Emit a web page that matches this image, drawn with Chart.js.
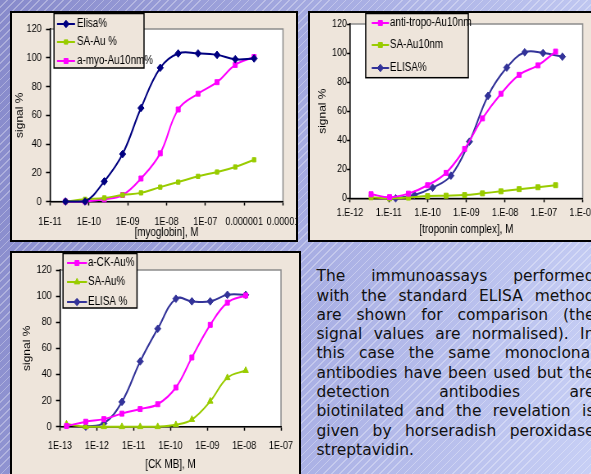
<!DOCTYPE html>
<html>
<head>
<meta charset="utf-8">
<script src="https://cdn.jsdelivr.net/npm/chart.js@4.4.1/dist/chart.umd.min.js"></script>
<style>
  html, body { margin: 0; padding: 0; }
  body {
    width: 591px; height: 474px; overflow: hidden; position: relative;
    background-image:
      repeating-linear-gradient(135deg, rgba(255,255,255,0) 0, rgba(255,255,255,0) 4.6px, rgba(255,255,255,0.3) 4.6px, rgba(255,255,255,0.3) 5.7px),
      linear-gradient(100deg, #878acb 0%, #a6ace2 50%, #c7cff5 100%);
  }
  .panel { position: absolute; border: 2px solid #000; background: #eee5db; overflow: hidden; }
  .panel canvas { position: absolute; left: 0; top: 0; transform-origin: 0 0; }
  #p1 { left: 10px; top: 11px; width: 284px; height: 227px; }
  #p2 { left: 308px; top: 11px; width: 296px; height: 227px; }
  #p3 { left: 10px; top: 251px; width: 287px; height: 236px; }
  #note {
    position: absolute; left: 316.5px; top: 267.3px; width: 278px;
    font-family: 'DejaVu Sans', Verdana, sans-serif; font-size: 15.5px; line-height: 19.3px; color: #111;
  }
  #note div { text-align: justify; text-align-last: justify; }
  #note div.last { text-align-last: left; }
</style>
</head>
<body>
<div class="panel" id="p1"><canvas id="myoChart"></canvas></div>
<div class="panel" id="p2"><canvas id="tropoChart"></canvas></div>
<div class="panel" id="p3"><canvas id="ckChart"></canvas></div>
<div id="note">
  <div>The immunoassays performed</div>
  <div>with the standard ELISA method</div>
  <div>are shown for comparison (the</div>
  <div>signal values are normalised). In</div>
  <div>this case the same monoclonal</div>
  <div>antibodies have been used but the</div>
  <div>detection antibodies are</div>
  <div>biotinilated and the revelation is</div>
  <div>given by horseradish peroxidase</div>
  <div class="last">streptavidin.</div>
</div>
<script>
// --- data: myoglobin panel ---
const myoConc = [2.5e-11, 8e-11, 2.5e-10, 7.4e-10, 2.2e-9, 6.9e-9, 2e-8, 6.5e-8, 2e-7, 5.9e-7, 1.8e-6];
const myoElisa = [0, 0, 14, 33, 65, 93, 103, 103, 102, 99, 99.5];
const myoSaAu = [0, 1.5, 2.5, 4.5, 6, 10, 13.5, 17.5, 20.5, 24, 29];
const myoAntiAu = [0, 0, 1.5, 4.5, 16, 33.5, 64, 75, 83, 95, 100.5];
const myoTickValues = [1e-11, 1e-10, 1e-9, 1e-8, 1e-7, 1e-6, 1e-5];
const myoTickLabels = ['1E-11', '1E-10', '1E-09', '1E-08', '1E-07', '0.000001', '0.00001'];

// --- data: troponin panel ---
const tropoConc = [3.5e-12, 1.05e-11, 3.2e-11, 1e-10, 3e-10, 9e-10, 2.6e-9, 7.8e-9, 2.3e-8, 7e-8, 2e-7];
const tropoAntiAu = [2.8, 0.8, 3.2, 9, 17.5, 34, 55, 72, 85, 91.5, 101];
const tropoSaAu = [0.7, 0, 0.5, 1.5, 1.8, 2.2, 3.4, 4.8, 6.3, 7.6, 9];
const tropoElisaConc = [1.5e-11, 4.6e-11, 1.35e-10, 4e-10, 1.2e-9, 3.6e-9, 1.1e-8, 3.2e-8, 9.5e-8, 3e-7];
const tropoElisa = [0, 2.3, 7.3, 15.6, 39, 70.5, 90, 100.5, 100, 97.5];
const tropoTickValues = [1e-12, 1e-11, 1e-10, 1e-9, 1e-8, 1e-7, 1e-6];
const tropoTickLabels = ['1.E-12', '1.E-11', '1.E-10', '1.E-09', '1.E-08', '1.E-07', '1.E-06'];

// --- data: CK-MB panel ---
const ckConc = [1.5e-13, 5e-13, 1.55e-12, 4.8e-12, 1.5e-11, 4.5e-11, 1.4e-10, 3.8e-10, 1.2e-9, 3.5e-9, 1.1e-8];
const ckAntiAu = [0.5, 3.8, 5.8, 10, 13.5, 17.2, 30, 53, 78, 95, 100.5];
const ckSaAu = [2, 0, 0, 0, 0, 0, 1.5, 5.5, 19.5, 37.5, 43];
const ckElisa = [null, 0, 2.5, 19, 50, 75, 98, 96, 96, 101, 101];
const ckTickValues = [1e-13, 1e-12, 1e-11, 1e-10, 1e-9, 1e-8, 1e-7];
const ckTickLabels = ['1E-13', '1E-12', '1E-11', '1E-10', '1E-09', '1E-08', '1E-07'];

const NAVY = '#000080', BLUE = '#333399', PINK = '#ff00ff', LIME = '#99cc00';

// the slide is squeezed sideways, so every canvas is drawn wider and scaled back
const K = 0.82;
const sx = v => v / K;
const FONT = "'Liberation Sans', Arial, sans-serif";

Chart.defaults.font.family = FONT;
Chart.defaults.color = '#000';

function points(xs, ys) {
    return xs.map((x, i) => ({ x: x, y: ys[i] })).filter(p => p.y !== null);
}

function series(label, xs, ys, color, style, radius) {
    return {
        label: label,
        data: points(xs, ys),
        borderColor: color,
        backgroundColor: color,
        pointBackgroundColor: color,
        pointBorderColor: color,
        pointStyle: style,
        pointRadius: radius,
        pointBorderWidth: 1,
        borderWidth: 2,
        tension: 0.4,
        clip: false
    };
}

// white plot area with a grey frame, like the spreadsheet original
const plotBg = {
    id: 'plotBg',
    beforeDraw(chart) {
        const { ctx, chartArea: a } = chart;
        ctx.save();
        ctx.fillStyle = '#fff';
        ctx.fillRect(a.left, a.top, a.width, a.height);
        ctx.strokeStyle = '#8c8c8c';
        ctx.lineWidth = 1.5;
        ctx.strokeRect(a.left, a.top, a.width, a.height);
        ctx.restore();
    }
};

// boxed legend with line + marker samples
const boxLegend = {
    id: 'boxLegend',
    afterDraw(chart, args, o) {
        const ctx = chart.ctx;
        ctx.save();
        ctx.fillStyle = '#eee5db';
        ctx.fillRect(o.x, o.y, o.w, o.h);
        ctx.strokeStyle = '#000';
        ctx.lineWidth = 1.5;
        ctx.strokeRect(o.x, o.y, o.w, o.h);
        ctx.font = '12px ' + FONT;
        ctx.textBaseline = 'middle';
        chart.data.datasets.forEach((ds, i) => {
            const y = o.rows[i];
            ctx.strokeStyle = ds.borderColor;
            ctx.lineWidth = 2;
            ctx.beginPath();
            ctx.moveTo(o.x1, y);
            ctx.lineTo(o.x2, y);
            ctx.stroke();
            ctx.fillStyle = ds.borderColor;
            ctx.lineWidth = 1;
            Chart.helpers.drawPoint(ctx, { pointStyle: ds.pointStyle, radius: ds.pointRadius, borderWidth: 1, rotation: 0 }, (o.x1 + o.x2) / 2, y);
            ctx.fillStyle = '#000';
            ctx.fillText(ds.label, o.tx, y);
        });
        ctx.restore();
    }
};

// L holds the panel geometry in screen pixels
function makeChart(id, L, datasets, tickValues, tickLabels, xTitle) {
    const canvas = document.getElementById(id);
    const cw = Math.round(sx(L.w));
    canvas.width = cw;
    canvas.height = L.h;
    canvas.style.transform = 'scaleX(' + K + ')';

    const yWidth = sx(L.left);
    const yTickLen = sx(L.yTickLen);

    return new Chart(canvas, {
        type: 'line',
        data: { datasets: datasets },
        options: {
            responsive: false,
            animation: false,
            devicePixelRatio: 1,
            layout: { padding: { left: 0, top: L.top, right: cw - sx(L.right), bottom: 0 } },
            scales: {
                x: {
                    type: 'logarithmic',
                    min: tickValues[0],
                    max: tickValues[tickValues.length - 1],
                    afterBuildTicks: s => { s.ticks = tickValues.map(v => ({ value: v })); },
                    afterFit: s => {
                        s.height = L.h - L.bottom;
                        s.paddingLeft = 0; s.paddingRight = 0;
                    },
                    ticks: {
                        autoSkip: false, maxRotation: 0, minRotation: 0,
                        padding: L.xTickPad,
                        font: { size: 11 },
                        callback: (v, i) => tickLabels[i]
                    },
                    grid: { drawOnChartArea: false, drawTicks: true, tickLength: 4, tickColor: '#000', tickWidth: 1.5 },
                    border: { color: '#000', width: 1.5 },
                    title: { display: true, text: xTitle, font: { size: 12 }, padding: { top: 0, bottom: L.xTitlePad } }
                },
                y: {
                    min: 0, max: 120,
                    afterFit: s => {
                        s.width = yWidth;
                        s.paddingTop = 0; s.paddingBottom = 0;
                    },
                    ticks: { stepSize: 20, padding: yWidth - yTickLen - sx(L.yLabelRight), font: { size: 11 } },
                    grid: { drawOnChartArea: false, drawTicks: true, tickLength: yTickLen, tickColor: '#000', tickWidth: 1.5 },
                    border: { color: '#000', width: 1.5 },
                    title: { display: true, text: 'signal %', font: { size: 12 }, padding: { top: sx(L.yTitleX) - 7.2, bottom: 0 } }
                }
            },
            plugins: {
                legend: { display: false },
                tooltip: { enabled: false },
                boxLegend: {
                    x: sx(L.legend.x), y: L.legend.y, w: sx(L.legend.w), h: L.legend.h,
                    rows: L.legend.rows,
                    x1: sx(L.legend.x1), x2: sx(L.legend.x2), tx: sx(L.legend.tx)
                }
            }
        },
        plugins: [plotBg, boxLegend]
    });
}

// Chart 1: myoglobin
makeChart('myoChart', {
    w: 284, h: 227, left: 38, top: 16, right: 271, bottom: 188.5,
    xTickPad: 9.4, xTitlePad: 0, yTitleX: 8, yLabelRight: 29.7, yTickLen: 4,
    legend: { x: 42, y: 0.5, w: 90, h: 54.5, rows: [11, 29, 48], x1: 45, x2: 63, tx: 65 }
}, [
    series('Elisa%', myoConc, myoElisa, NAVY, 'rectRot', 3.8),
    series('SA-Au %', myoConc, myoSaAu, LIME, 'rect', 3),
    series('a-myo-Au10nm%', myoConc, myoAntiAu, PINK, 'rect', 3.5)
], myoTickValues, myoTickLabels, '[myoglobin], M');

// Chart 2: troponin complex
makeChart('tropoChart', {
    w: 296, h: 227, left: 40, top: 11, right: 272.7, bottom: 185.3,
    xTickPad: 4.4, xTitlePad: 2.8, yTitleX: 13, yLabelRight: 37, yTickLen: 3,
    legend: { x: 55.7, y: 0.5, w: 102.6, h: 64.2, rows: [10, 32, 55], x1: 61.7, x2: 79, tx: 80 }
}, [
    series('anti-tropo-Au10nm', tropoConc, tropoAntiAu, PINK, 'rect', 3.5),
    series('SA-Au10nm', tropoConc, tropoSaAu, LIME, 'rect', 3.5),
    series('ELISA%', tropoElisaConc, tropoElisa, BLUE, 'rectRot', 3.8)
], tropoTickValues, tropoTickLabels, '[troponin complex], M');

// Chart 3: CK-MB
makeChart('ckChart', {
    w: 287, h: 236, left: 48, top: 17, right: 269, bottom: 173.7,
    xTickPad: 8.7, xTitlePad: 16.8, yTitleX: 15, yLabelRight: 39.7, yTickLen: 4,
    legend: { x: 51, y: 0.5, w: 74, h: 54.5, rows: [10, 29, 49], x1: 55, x2: 75, tx: 76 }
}, [
    series('a-CK-Au%', ckConc, ckAntiAu, PINK, 'rect', 3.5),
    series('SA-Au%', ckConc, ckSaAu, LIME, 'triangle', 3.8),
    series('ELISA %', ckConc, ckElisa, BLUE, 'rectRot', 3.8)
], ckTickValues, ckTickLabels, '[CK MB], M');
</script>
</body>
</html>
